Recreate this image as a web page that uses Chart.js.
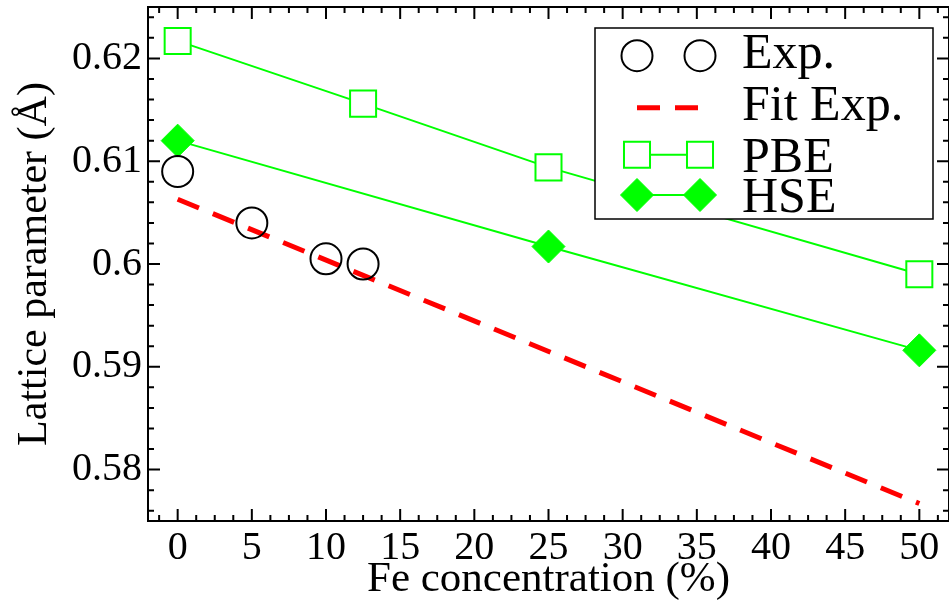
<!DOCTYPE html>
<html>
<head>
<meta charset="utf-8">
<title>Lattice parameter vs Fe concentration</title>
<script src="https://cdn.jsdelivr.net/npm/chart.js@4.4.0/dist/chart.umd.min.js"></script>
<style>
html,body{margin:0;padding:0;background:#fff;}
#wrap{width:949px;height:603px;}
</style>
</head>
<body>
<div id="wrap"><canvas id="latticeChart" width="949" height="603"></canvas></div>
<script>
// === DATA ===
const expX=[0,5,10,12.5];
const expY=[0.6090,0.6040,0.6005,0.6000];
const fitX=[0,50];
const fitY=[0.6063,0.5767];
const pbeX=[0,12.5,25,50];
const pbeY=[0.6217,0.6156,0.6094,0.5990];
const hseX=[0,25,50];
const hseY=[0.6120,0.6017,0.5916];

const xTicks=[0,5,10,15,20,25,30,35,40,45,50];
const yTicks=[0.58,0.59,0.6,0.61,0.62];
const yTickLabels=["0.58","0.59","0.6","0.61","0.62"];
const legendLabels=["Exp.","Fit Exp.","PBE","HSE"];

// === STYLE ===
const SERIF='"Liberation Serif","Times New Roman",serif';
const GREEN="#00ff00", RED="#ff0000";
const xMinorStep=1.25, yMinorStep=0.002;

const pts=(xs,ys)=>xs.map((x,i)=>({x:x,y:ys[i]}));

// === FRAME + INWARD TICKS (all four sides) ===
const framePlugin={id:"frame",
  afterDatasetsDraw(chart){
    const {ctx,chartArea:a,scales:{x,y}}=chart;
    ctx.save();
    ctx.strokeStyle="#000";ctx.lineWidth=2;
    ctx.strokeRect(a.left,a.top,a.right-a.left,a.bottom-a.top);
    ctx.beginPath();
    for(let k=Math.ceil(x.min/xMinorStep);k*xMinorStep<=x.max;k++){
      const px=x.getPixelForValue(k*xMinorStep), len=(k%4===0)?12:6;
      ctx.moveTo(px,a.bottom);ctx.lineTo(px,a.bottom-len);
      ctx.moveTo(px,a.top);ctx.lineTo(px,a.top+len);
    }
    for(let k=Math.ceil(y.min/yMinorStep-1e-6);k*yMinorStep<=y.max+1e-9;k++){
      const py=y.getPixelForValue(k*yMinorStep), len=(k%5===0)?12:6;
      ctx.moveTo(a.left,py);ctx.lineTo(a.left+len,py);
      ctx.moveTo(a.right,py);ctx.lineTo(a.right-len,py);
    }
    ctx.stroke();
    ctx.restore();
  }
};

// === LEGEND BOX (inside plot, top right) ===
const legendPlugin={id:"boxLegend",
  afterDraw(chart){
    const ctx=chart.ctx, ds=chart.data.datasets;
    const bx=595,by=28,bw=338,bh=191;
    const symY=[55.7,107.7,154.7,195], txtY=[68.3,120,171.7,211.7];
    const x1=637,x2=700,tx=742;
    ctx.save();
    ctx.fillStyle="#fff";ctx.fillRect(bx,by,bw,bh);
    ctx.strokeStyle="#000";ctx.lineWidth=1.5;ctx.strokeRect(bx,by,bw,bh);
    ds.forEach((d,i)=>{
      const yy=symY[i];
      if(d.showLine){
        ctx.save();
        ctx.strokeStyle=d.borderColor;ctx.lineWidth=d.borderWidth;
        ctx.setLineDash(d.borderDash||[]);
        ctx.beginPath();ctx.moveTo(x1,yy);ctx.lineTo(x2,yy);ctx.stroke();
        ctx.restore();
      }
      if(d.pointRadius>0){
        [x1,x2].forEach(px=>{
          ctx.save();
          ctx.fillStyle=d.pointBackgroundColor;ctx.strokeStyle=d.pointBorderColor;
          ctx.lineWidth=d.pointBorderWidth;
          Chart.helpers.drawPoint(ctx,{pointStyle:d.pointStyle,radius:d.pointRadius,rotation:0,borderWidth:d.pointBorderWidth},px,yy);
          ctx.restore();
        });
      }
      ctx.fillStyle="#000";ctx.font="50px "+SERIF;
      ctx.textAlign="left";ctx.textBaseline="alphabetic";
      ctx.fillText(legendLabels[i],tx,txtY[i]);
    });
    ctx.restore();
  }
};

// === CHART ===
const chart=new Chart(document.getElementById("latticeChart"),{
  type:"scatter",
  data:{datasets:[
    {label:legendLabels[0],data:pts(expX,expY),showLine:false,pointStyle:"circle",pointRadius:15.5,
      pointBorderWidth:2,pointBorderColor:"#000",pointBackgroundColor:"rgba(0,0,0,0)",borderColor:"#000"},
    {label:legendLabels[1],data:pts(fitX,fitY),showLine:true,borderColor:RED,borderWidth:5,
      borderDash:[23,15],pointRadius:0},
    {label:legendLabels[2],data:pts(pbeX,pbeY),showLine:true,borderColor:GREEN,borderWidth:2,
      pointStyle:"rect",pointRadius:18.4,pointBorderWidth:2,pointBorderColor:GREEN,pointBackgroundColor:"#fff"},
    {label:legendLabels[3],data:pts(hseX,hseY),showLine:true,borderColor:GREEN,borderWidth:2,
      pointStyle:"rectRot",pointRadius:16.5,pointBorderWidth:1,pointBorderColor:GREEN,pointBackgroundColor:GREEN}
  ]},
  options:{
    responsive:false,animation:false,events:[],
    layout:{autoPadding:false,padding:{top:7,right:-2,left:0,bottom:0}},
    plugins:{legend:{display:false},tooltip:{enabled:false}},
    scales:{
      x:{type:"linear",min:-2,max:52,
        afterBuildTicks:s=>{s.ticks=xTicks.map(v=>({value:v}));},
        afterFit:s=>{s.height=82;s.paddingLeft=0;s.paddingRight=0;},
        grid:{display:false,drawTicks:false},border:{display:false},
        ticks:{font:{family:SERIF,size:40},color:"#000",padding:3,maxRotation:0,autoSkip:false},
        title:{display:true,text:"Fe concentration (%)",color:"#000",
          font:{family:SERIF,size:43,lineHeight:1},padding:{top:0,bottom:2}}},
      y:{type:"linear",min:0.575,max:0.625,
        afterBuildTicks:s=>{s.ticks=yTicks.map(v=>({value:v}));},
        afterFit:s=>{s.width=148;s.paddingTop=0;s.paddingBottom=0;},
        grid:{display:false,drawTicks:false},border:{display:false},
        ticks:{font:{family:SERIF,size:40},color:"#000",padding:6,callback:(v,i)=>yTickLabels[i]},
        title:{display:true,text:"Lattice parameter (Å)",color:"#000",
          font:{family:SERIF,size:42,lineHeight:1},padding:{top:14,bottom:0}}}
    }
  },
  plugins:[framePlugin,legendPlugin]
});
</script>
</body>
</html>
